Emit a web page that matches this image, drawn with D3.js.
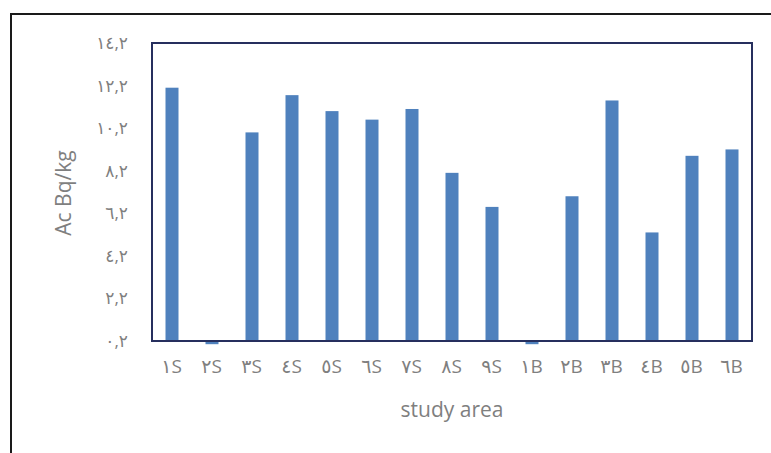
<!DOCTYPE html>
<html>
<head>
<meta charset="utf-8">
<script src="https://cdn.jsdelivr.net/npm/d3@7"></script>
<style>
  html, body { margin: 0; padding: 0; background: #fff; }
  svg { display: block; }
  text { font-family: "Open Sans", "DejaVu Sans", sans-serif; fill: #7f7f7f; }
</style>
</head>
<body>
<svg id="chart" width="771" height="453"></svg>
<script>
// Sampling sites along the x axis
const categories = ["١S", "٢S", "٣S", "٤S", "٥S", "٦S", "٧S", "٨S", "٩S",
                    "١B", "٢B", "٣B", "٤B", "٥B", "٦B"];
// Ac activity per site (Bq/kg)
const acValues = [12.1, 0.05, 10.0, 11.75, 11.0, 10.6, 11.1, 8.1, 6.5,
                  0.05, 7.0, 11.5, 5.3, 8.9, 9.2];
// Value axis ticks and their printed labels
const yTicks = [0.2, 2.2, 4.2, 6.2, 8.2, 10.2, 12.2, 14.2];
const yTickLabels = ["٠,٢", "٢,٢", "٤,٢", "٦,٢", "٨,٢", "١٠,٢", "١٢,٢", "١٤,٢"];
const yTitle = "Ac Bq/kg";
const xTitle = "study area";

const svg = d3.select("#chart");
const plot = { left: 152, top: 43, right: 752, bottom: 341 };

// outer frame
svg.append("path")
  .attr("d", "M11,453 V14 H771")
  .attr("fill", "none")
  .attr("stroke", "#1a1a1a")
  .attr("stroke-width", 2);

const x = d3.scaleBand()
  .domain(categories)
  .range([plot.left, plot.right])
  .paddingInner(0.675)
  .paddingOuter(0.3375);

const y = d3.scaleLinear()
  .domain([0.2, 14.2])
  .range([plot.bottom, plot.top]);

// bars
svg.append("g")
  .selectAll("rect")
  .data(categories.map((c, i) => ({ c, v: acValues[i] })))
  .join("rect")
  .attr("x", d => x(d.c))
  .attr("width", x.bandwidth())
  .attr("y", d => Math.min(y(d.v), y(0.2)))
  .attr("height", d => Math.abs(y(d.v) - y(0.2)))
  .attr("fill", "#4f81bd");

// plot area border
svg.append("rect")
  .attr("x", plot.left)
  .attr("y", plot.top)
  .attr("width", plot.right - plot.left)
  .attr("height", plot.bottom - plot.top)
  .attr("fill", "none")
  .attr("stroke", "#262f5e")
  .attr("stroke-width", 2);

// value axis
const yAxis = d3.axisLeft(y)
  .tickValues(yTicks)
  .tickSize(0)
  .tickPadding(24)
  .tickFormat((d, i) => yTickLabels[i]);
const gy = svg.append("g")
  .attr("transform", `translate(${plot.left},0)`)
  .call(yAxis);
gy.select(".domain").remove();
gy.selectAll("text")
  .attr("font-size", 17)
  .attr("letter-spacing", 2)
  .attr("fill", "#7f7f7f")
  .style("direction", "ltr");

// category axis
const xAxis = d3.axisBottom(x).tickSize(0).tickPadding(19);
const gx = svg.append("g")
  .attr("transform", `translate(0,${plot.bottom})`)
  .call(xAxis);
gx.select(".domain").remove();
gx.selectAll("text")
  .attr("font-size", 19)
  .attr("letter-spacing", 1)
  .attr("fill", "#7f7f7f")
  .style("direction", "ltr");

// axis titles
svg.append("text")
  .attr("transform", `translate(71,193) rotate(-90)`)
  .attr("text-anchor", "middle")
  .attr("font-size", 21)
  .attr("fill", "#7f7f7f")
  .text(yTitle);

svg.append("text")
  .attr("x", 452)
  .attr("y", 417)
  .attr("text-anchor", "middle")
  .attr("font-size", 21)
  .attr("fill", "#7f7f7f")
  .text(xTitle);
</script>
</body>
</html>
